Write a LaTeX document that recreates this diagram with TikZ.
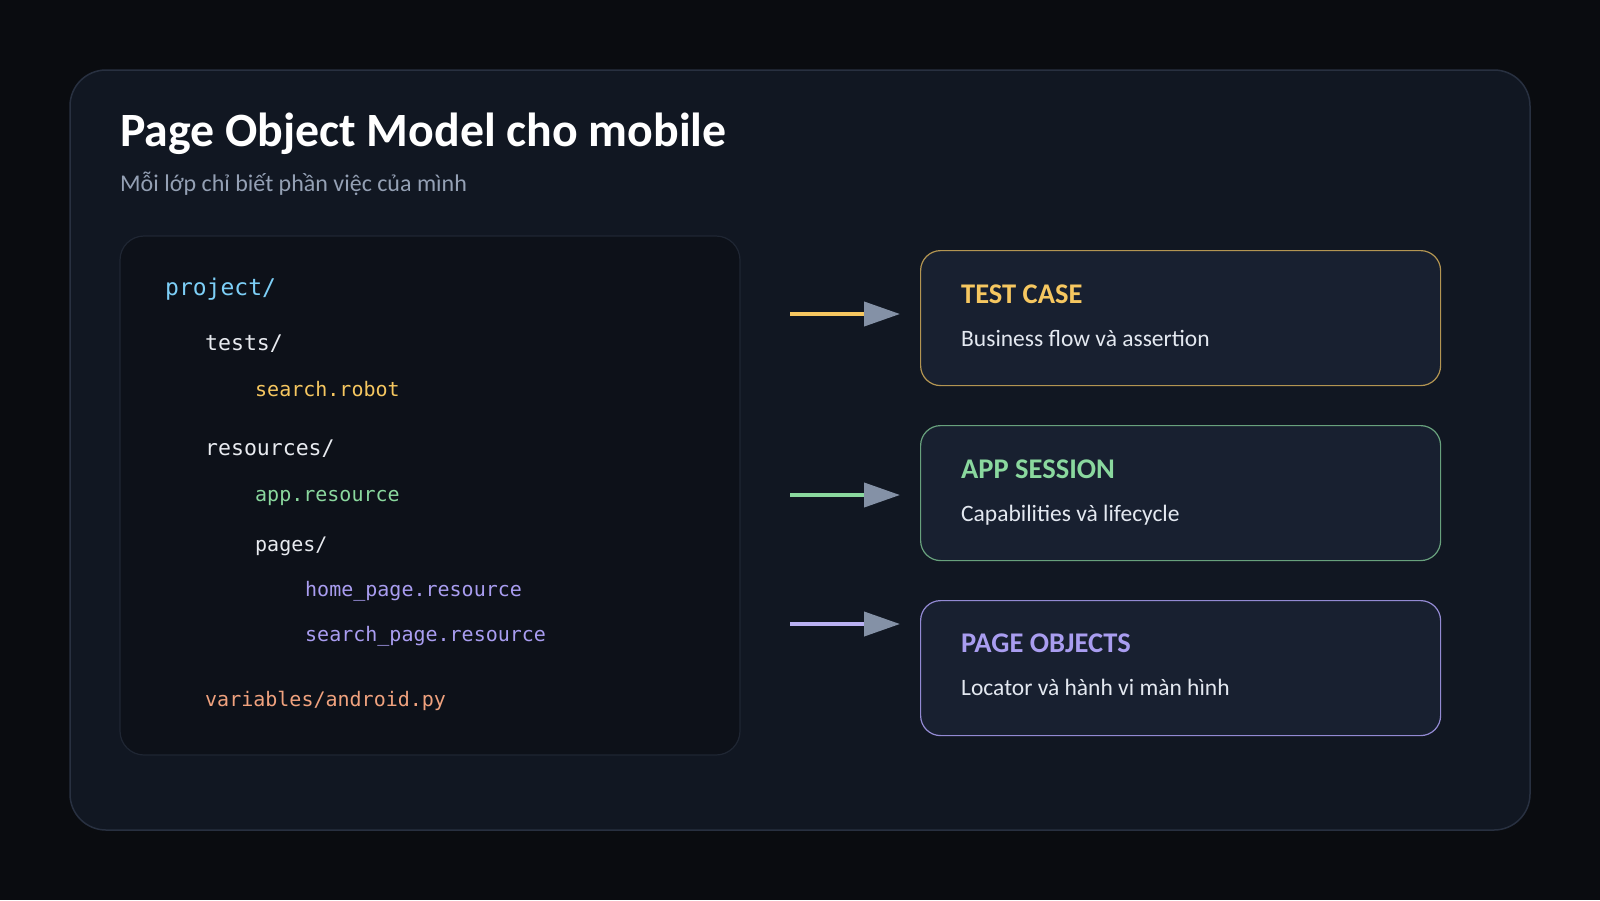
\documentclass[tikz,border=0pt]{standalone}
\usepackage{fontspec}
\setmainfont{Carlito}
\setmonofont{DejaVu Sans Mono}
\usepackage{tikz}
\usetikzlibrary{arrows.meta}
\usetikzlibrary{positioning}
\definecolor{pagebg}{HTML}{0A0C10}
\definecolor{panelbg}{HTML}{111722}
\definecolor{panelline}{HTML}{283040}
\definecolor{treebg}{HTML}{0D1119}
\definecolor{treeline}{HTML}{1F2633}
\definecolor{cardbg}{HTML}{182030}
\definecolor{cardfg}{HTML}{E3E8F0}
\definecolor{subgray}{HTML}{94A0B4}
\definecolor{tipgray}{HTML}{8491A6}
\definecolor{tcyellow}{HTML}{F6C760}
\definecolor{asgreen}{HTML}{8AD89E}
\definecolor{popurple}{HTML}{A99DF0}
\definecolor{dirblue}{HTML}{7DCFF7}
\definecolor{dirwhite}{HTML}{E8EBF0}
\definecolor{pyorange}{HTML}{F0A27E}
\tikzstyle{card}=[draw,fill=cardbg,rounded corners=20pt,line width=1.2pt,minimum width=520pt,minimum height=135pt,anchor=north west]
\tikzstyle{cardtitle}=[anchor=base west,inner sep=0pt,font=\bfseries\fontsize{28.5}{30}\selectfont]
\tikzstyle{cardtext}=[anchor=base west,inner sep=0pt,text=cardfg,font=\fontsize{23.5}{26}\selectfont]
\tikzstyle{tree}=[anchor=base west,inner sep=0pt,font=\ttfamily\fontsize{20}{22}\selectfont]
\tikzstyle{feed}=[line width=4pt,shorten >=20pt,-{Triangle[length=36pt,width=24pt,color=tipgray]}]

\begin{document}
\begin{tikzpicture}[x=1pt,y=-1pt]
\fill[pagebg] (0,0) rectangle (1600,900);
\draw[fill=panelbg,draw=panelline,line width=1.5pt,rounded corners=36pt] (70,70) rectangle (1530,830);
\node[anchor=base west,inner sep=0pt,text=white,font=\bfseries\fontsize{47.8}{50}\selectfont] (title) at (120,146) {Page Object Model cho mobile};
\node[anchor=base west,inner sep=0pt,text=subgray,font=\fontsize{24}{26}\selectfont] (subtitle) at (120,191) {Mỗi lớp chỉ biết phần việc của mình};

\draw[fill=treebg,draw=treeline,line width=1.2pt,rounded corners=24pt] (120,236) rectangle (740,755);
\node[tree,text=dirblue,font=\ttfamily\fontsize{23}{25}\selectfont] (project) at (165,295) {project/};
\node[tree,text=dirwhite,font=\ttfamily\fontsize{21.5}{24}\selectfont] (tests) at (205,350) {tests/};
\node[tree,text=tcyellow] (robot) at (255,396) {search.robot};
\node[tree,text=dirwhite,font=\ttfamily\fontsize{21.5}{24}\selectfont] (resources) at (205,455) {resources/};
\node[tree,text=asgreen] (appres) at (255,501) {app.resource};
\node[tree,text=dirwhite] (pages) at (255,551) {pages/};
\node[tree,text=popurple] (homepage) at (305,596) {home\_page.resource};
\node[tree,text=popurple] (searchpage) at (305,641) {search\_page.resource};
\node[tree,text=pyorange] (android) at (205,706) {variables/android.py};

\node[card,draw=tcyellow!70!cardbg] (testcase) at (920,250) {};
\node[cardtitle,text=tcyellow] at ([shift={(41,53)}]testcase.north west) {TEST CASE};
\node[cardtext] at ([shift={(41,96)}]testcase.north west) {Business flow và assertion};

\node[card,draw=asgreen!70!cardbg] (session) at (920,425) {};
\node[cardtitle,text=asgreen] at ([shift={(41,53)}]session.north west) {APP SESSION};
\node[cardtext] at ([shift={(41,96)}]session.north west) {Capabilities và lifecycle};

\node[card,draw=popurple!85!cardbg] (pageobj) at (920,600) {};
\node[cardtitle,text=popurple] at ([shift={(41,52)}]pageobj.north west) {PAGE OBJECTS};
\node[cardtext] at ([shift={(41,95)}]pageobj.north west) {Locator và hành vi màn hình};

\coordinate (tc-in) at (790,314);
\coordinate (as-in) at (790,495);
\coordinate (po-in) at (790,624);
\draw[feed,draw=tcyellow] (tc-in) -- (tc-in -| testcase.west);
\draw[feed,draw=asgreen] (as-in) -- (as-in -| session.west);
\draw[feed,draw=popurple!80!white] (po-in) -- (po-in -| pageobj.west);
\end{tikzpicture}
\end{document}
